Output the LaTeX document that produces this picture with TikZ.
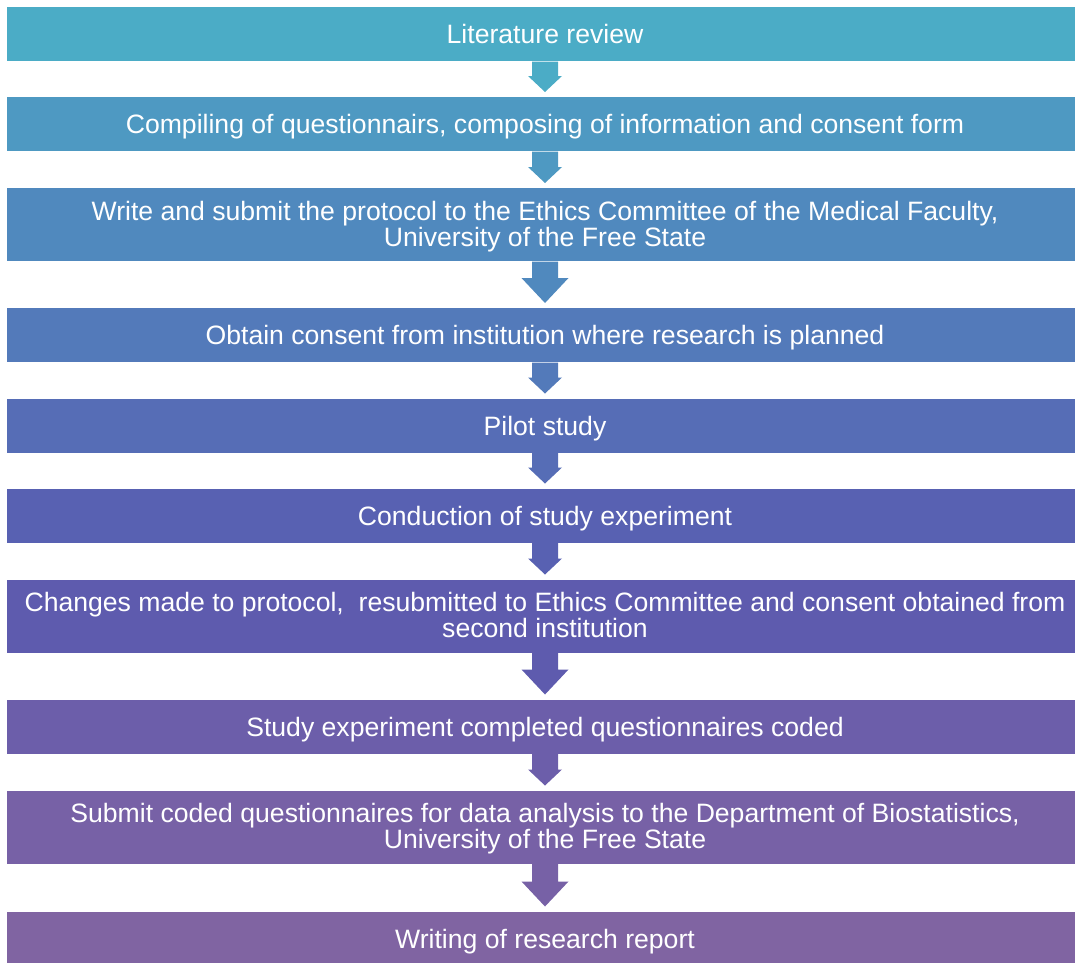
\documentclass[tikz,border=0pt]{standalone}
\usepackage{fontspec}
\setmainfont{Liberation Sans}
\usetikzlibrary{calc}
\definecolor{c1}{HTML}{4BACC6}
\definecolor{c2}{HTML}{4E99C2}
\definecolor{c3}{HTML}{5089BE}
\definecolor{c4}{HTML}{537ABA}
\definecolor{c5}{HTML}{566DB6}
\definecolor{c6}{HTML}{5861B2}
\definecolor{c7}{HTML}{5E5BAE}
\definecolor{c8}{HTML}{6C5EAA}
\definecolor{c9}{HTML}{7761A6}
\definecolor{c10}{HTML}{8064A2}
\tikzset{
  stagebox/.style={rectangle, inner sep=0pt, outer sep=0pt, minimum width=1076pt,
    text=white, align=center, font=\fontsize{26.6pt}{26pt}\selectfont},
  onebox/.style={stagebox, minimum height=54pt, text height=22pt, text depth=3pt},
  twobox/.style={stagebox, minimum height=73pt, text height=46pt, text depth=2.4pt},
}
% #1 from node, #2 to node, #3 colour, #4 head half-width, #5 head length
\newcommand{\flowarr}[5]{%
  \fill[#3] ($(#1.south)+(-13,0.5)$) -- ($(#2.north)+(-13,-5-#5)$)
    -- ($(#2.north)+(-#4,-5-#5)$) -- ($(#2.north)+(0,-5)$)
    -- ($(#2.north)+(#4,-5-#5)$) -- ($(#2.north)+(13,-5-#5)$)
    -- ($(#1.south)+(13,0.5)$) -- cycle;}
\begin{document}
\begin{tikzpicture}[x=1pt,y=-1pt]
\useasboundingbox (0,0) rectangle (1075,962);
\begin{scope}
\clip (0,0) rectangle (1075,962);
\node[onebox, fill=c1] (b1) at (545,34) {Literature review};
\node[onebox, fill=c2] (b2) at (545,124) {Compiling of questionnairs, composing of information and consent form};
\node[twobox, fill=c3] (b3) at (545,224.5) {Write and submit the protocol to the Ethics Committee of the Medical Faculty,\\University of the Free State};
\node[onebox, fill=c4] (b4) at (545,335) {Obtain consent from institution where research is planned};
\node[onebox, fill=c5] (b5) at (545,425.5) {Pilot study};
\node[onebox, fill=c6] (b6) at (545,515.5) {Conduction of study experiment};
\node[twobox, fill=c7] (b7) at (545,616) {Changes made to protocol, \ resubmitted to Ethics Committee and consent obtained from\\second institution};
\node[onebox, fill=c8] (b8) at (545,726.5) {Study experiment completed questionnaires coded};
\node[twobox, fill=c9] (b9) at (545,827) {Submit coded questionnaires for data analysis to the Department of Biostatistics,\\University of the Free State};
\node[onebox, fill=c10] (b10) at (545,938.5) {Writing of research report};
\flowarr{b1}{b2}{c1}{17}{16}
\flowarr{b2}{b3}{c2}{17}{16}
\flowarr{b3}{b4}{c3}{23.5}{25}
\flowarr{b4}{b5}{c4}{17}{16}
\flowarr{b5}{b6}{c5}{17}{16}
\flowarr{b6}{b7}{c6}{17}{16}
\flowarr{b7}{b8}{c7}{23.5}{25}
\flowarr{b8}{b9}{c8}{17}{16}
\flowarr{b9}{b10}{c9}{23.5}{25}
\end{scope}
\end{tikzpicture}
\end{document}
